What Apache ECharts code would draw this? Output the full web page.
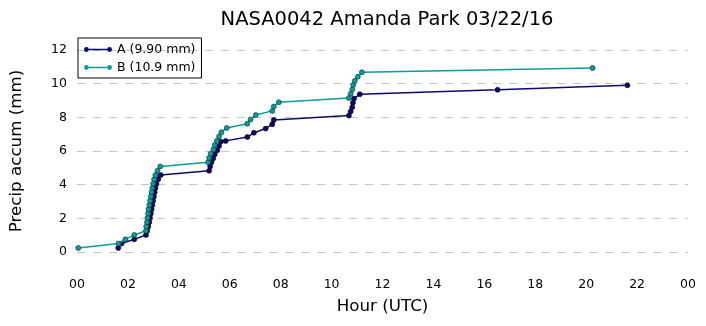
<!DOCTYPE html>
<html>
<head>
<meta charset="utf-8">
<script src="https://cdn.jsdelivr.net/npm/echarts@6/dist/echarts.min.js"></script>
<style>
html,body{margin:0;padding:0;background:#fff;}
#chart{width:706px;height:326px;}
</style>
</head>
<body>
<div id="chart"></div>
<script>
// ---- data ----
const titleText = 'NASA0042 Amanda Park 03/22/16';
const seriesNames = ['A (9.90 mm)', 'B (10.9 mm)'];
const hoursA = [1.62,1.75,2.25,2.71, 2.76,2.80,2.84,2.87,2.90,2.93,2.96,2.99,3.02,3.05,3.08,3.12,3.19,3.29,
  5.19,5.23,5.28,5.35,5.41,5.51,5.58,5.65, 5.84,6.69,6.95,7.41,7.67,7.73,
  10.68,10.75,10.81,10.84,10.88,11.11, 16.52,21.62];
const precipA = [0.25,0.51,0.76,1.02, 1.27,1.52,1.78,2.03,2.29,2.54,2.79,3.05,3.3,3.56,3.81,4.06,4.32,4.57,
  4.83,5.08,5.33,5.56,5.8,6.05,6.3,6.55, 6.6,6.83,7.08,7.33,7.59,7.84,
  8.1,8.35,8.6,8.86,9.11,9.37, 9.63,9.9];
const hoursB = [0.05,1.63,1.9,2.25,2.71, 2.72,2.75,2.77,2.79,2.81,2.84,2.87,2.90,2.93,2.96,2.99,3.03,3.08,3.16,3.27,
  5.15,5.19,5.25,5.36,5.41,5.49,5.58,5.67,5.88, 6.69,6.82,7.02,7.67,7.73,7.93,
  10.68,10.75,10.81,10.85,10.91,11.03,11.19, 20.25];
const precipB = [0.25,0.51,0.76,1.02,1.27, 1.52,1.78,2.03,2.29,2.54,2.79,3.05,3.3,3.56,3.81,4.06,4.32,4.57,4.83,5.08,
  5.33,5.59,5.84,6.1,6.35,6.6,6.86,7.11,7.37, 7.62,7.87,8.13,8.38,8.64,8.89,
  9.14,9.4,9.65,9.91,10.16,10.41,10.67, 10.92];
const xTickLabels = ['00','02','04','06','08','10','12','14','16','18','20','22','00'];
const yTickLabels = ['0','2','4','6','8','10','12'];

// ---- chart ----
const colA = '#0b0b6e', colB = '#0e9c97';
const font = 'DejaVu Sans';
const legendIcon = 'path://M5.1,4.3 H22.9 V5.7 H5.1 Z M0.3,5 A2.4,2.4 0 0,1 5.1,5 A2.4,2.4 0 0,1 0.3,5 Z M22.9,5 A2.4,2.4 0 0,1 27.7,5 A2.4,2.4 0 0,1 22.9,5 Z';

const chart = echarts.init(document.getElementById('chart'), null, {renderer:'canvas'});
function pairs(xs, ys){ return xs.map((x,i)=>[x, ys[i]]); }
const option = {
  animation:false,
  backgroundColor:'#fff',
  textStyle:{fontFamily:font},
  title:{text:titleText, left:382, textAlign:'center', top:5,
    textStyle:{fontFamily:font, fontSize:19.5, fontWeight:'normal', color:'#000'}},
  grid:{left:76, right:18, top:33, bottom:57},
  legend:{orient:'vertical', left:78, top:38, padding:[5,6,4,6], itemGap:5,
    itemWidth:28, itemHeight:10, borderColor:'#000', borderWidth:1, borderRadius:0,
    itemStyle:{borderWidth:0},
    textStyle:{fontFamily:font, fontSize:12.5, color:'#000', padding:[0,0,0,0]},
    data:[{name:seriesNames[0], icon:legendIcon, itemStyle:{color:colA, borderWidth:0}},
          {name:seriesNames[1], icon:legendIcon, itemStyle:{color:colB, borderWidth:0}}]},
  xAxis:{type:'value', min:0, max:24, interval:2,
    name:'Hour (UTC)', nameLocation:'middle', nameGap:29,
    nameTextStyle:{fontFamily:font, fontSize:16.7, color:'#000'},
    axisLine:{show:false}, axisTick:{show:false}, splitLine:{show:false},
    axisLabel:{margin:9, fontFamily:font, fontSize:12.5, color:'#000',
      formatter:v=>xTickLabels[Math.round(v/2)]}},
  yAxis:{type:'value', min:-1, max:13, interval:1,
    name:'Precip accum (mm)', nameLocation:'middle', nameGap:52,
    nameTextStyle:{fontFamily:font, fontSize:16.7, color:'#000'},
    axisLine:{show:false}, axisTick:{show:false},
    splitLine:{show:true, lineStyle:{color:['rgba(0,0,0,0)','#c4c4c4'], type:[8,8], width:1}},
    axisLabel:{margin:10, fontFamily:font, fontSize:12.5, color:'#000',
      formatter:v=>{ const i = yTickLabels.indexOf(String(v)); return i>=0 ? yTickLabels[i] : ''; }}},
  series:[
    {name:seriesNames[0], type:'line', data:pairs(hoursA, precipA), symbol:'circle', symbolSize:5,
      lineStyle:{color:colA, width:1.5}, itemStyle:{color:colA, borderColor:'#000', borderWidth:0.6}, z:2},
    {name:seriesNames[1], type:'line', data:pairs(hoursB, precipB), symbol:'circle', symbolSize:5,
      lineStyle:{color:colB, width:1.5}, itemStyle:{color:colB, borderColor:'#0a2a2a', borderWidth:0.6}, z:3}
  ]
};
chart.setOption(option);
</script>
</body>
</html>
